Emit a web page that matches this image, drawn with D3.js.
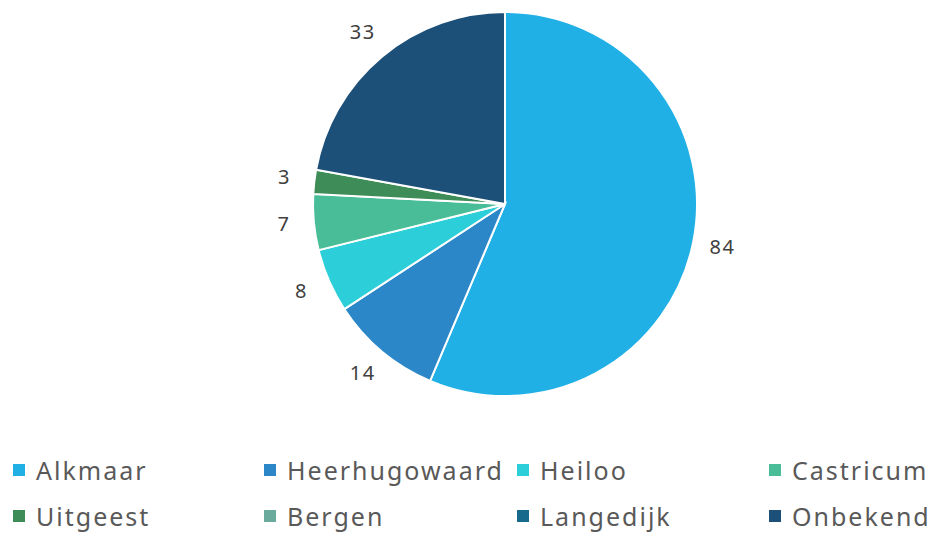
<!DOCTYPE html>
<html>
<head>
<meta charset="utf-8">
<script src="https://cdn.jsdelivr.net/npm/d3@7"></script>
<style>
  body { margin: 0; background: #fff; }
  svg { display: block; }
  text { font-family: "Noto Sans", "DejaVu Sans", sans-serif; }
</style>
</head>
<body>
<script>
var categories = ["Alkmaar", "Heerhugowaard", "Heiloo", "Castricum", "Uitgeest", "Bergen", "Langedijk", "Onbekend"];
var values = [84, 14, 8, 7, 3, 0, 0, 33];
var colors = ["#21b0e6", "#2b87c8", "#2ccfd9", "#48bd98", "#3e8c57", "#6aaa9d", "#176a8b", "#1d5079"];

var width = 935, height = 533;
var cx = 505, cy = 204, radius = 192;

var svg = d3.select("body").append("svg")
  .attr("width", width)
  .attr("height", height);

var data = categories.map(function(c, i) { return { name: c, value: values[i], color: colors[i] }; });

var pie = d3.pie().sort(null).value(function(d) { return d.value; });
var arc = d3.arc().innerRadius(0).outerRadius(radius);
var labelArc = d3.arc().innerRadius(222).outerRadius(222);

var g = svg.append("g").attr("transform", "translate(" + cx + "," + cy + ")");
var arcs = pie(data);

g.selectAll("path")
  .data(arcs.filter(function(d) { return d.value > 0; }))
  .enter()
  .append("path")
  .attr("d", arc)
  .style("fill", function(d) { return d.data.color; })
  .style("stroke", "#fff")
  .style("stroke-width", 2);

g.selectAll("text.lbl")
  .data(arcs.filter(function(d) { return d.value > 0; }))
  .enter()
  .append("text")
  .attr("class", "lbl")
  .attr("x", function(d) { return labelArc.centroid(d)[0]; })
  .attr("y", function(d) { return labelArc.centroid(d)[1] - 2; })
  .attr("text-anchor", "middle")
  .attr("dominant-baseline", "central")
  .style("font-size", "20px")
  .style("letter-spacing", "1.5px")
  .style("fill", "#404040")
  .text(function(d) { return d.data.value; });

// legend, 4 columns x 2 rows
var colX = [13, 264, 517, 769];
var rowY = [470, 516];

var legend = svg.selectAll("g.legend")
  .data(data)
  .enter()
  .append("g")
  .attr("class", "legend")
  .attr("transform", function(d, i) {
    return "translate(" + colX[i % 4] + "," + rowY[Math.floor(i / 4)] + ")";
  });

legend.append("rect")
  .attr("x", 0)
  .attr("y", -6)
  .attr("width", 12)
  .attr("height", 12)
  .style("fill", function(d) { return d.color; });

legend.append("text")
  .attr("x", 23)
  .attr("y", 0)
  .attr("dominant-baseline", "central")
  .style("font-size", "25px")
  .style("letter-spacing", "2px")
  .style("fill", "#595959")
  .text(function(d) { return d.name; });
</script>
</body>
</html>
